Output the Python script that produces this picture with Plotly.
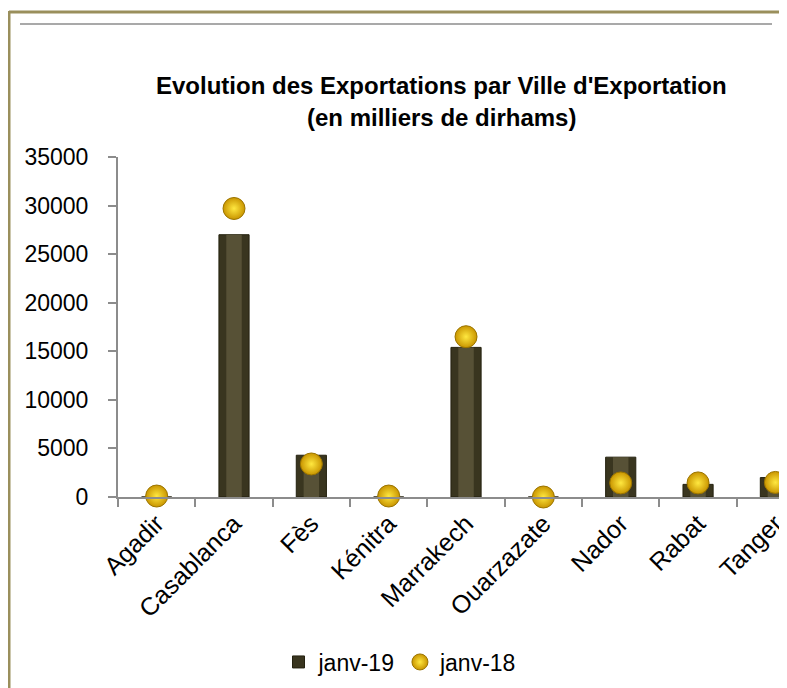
import plotly.graph_objects as go

villes = ["Agadir", "Casablanca", "Fès", "Kénitra", "Marrakech", "Ouarzazate", "Nador", "Rabat", "Tanger"]
janv19 = [0, 27000, 4300, 0, 15400, 0, 4100, 1300, 2000]
janv18 = [100, 29700, 3400, 100, 16500, 0, 1450, 1450, 1500]
yticks = [0, 5000, 10000, 15000, 20000, 25000, 30000, 35000]

OFF = 8  # page body margin
W, H = 787 - OFF, 688 - OFF
L, R_edge, T, B = 118 - OFF, 787 - OFF, 157 - OFF, 497 - OFF
pw, ph = R_edge - L, B - T

def px(x):
    return (x - OFF - L) / pw

def py(y):
    return (B - (y - OFF)) / ph

fig = go.Figure()
fig.add_trace(go.Bar(
    x=villes, y=janv19, name="janv-19", width=0.39,
    marker=dict(color="#39351f", line=dict(color="#24210f", width=1)),
))
fig.add_trace(go.Bar(
    x=villes, y=janv19, name="janv-19", width=0.2, showlegend=False, hoverinfo="skip",
    marker=dict(color="#575136", line=dict(width=0)),
))
fig.add_trace(go.Scatter(
    x=villes, y=janv18, name="janv-18", mode="markers", cliponaxis=False,
    marker=dict(size=22, color="#c99500", symbol="circle",
                gradient=dict(type="radial", color="#ffe840"),
                line=dict(color="#9a7400", width=1)),
))

font = "Liberation Sans, Arial, sans-serif"
fig.update_layout(
    width=W, height=H,
    margin=dict(l=L, r=W - R_edge, t=T, b=H - B, pad=0),
    paper_bgcolor="white", plot_bgcolor="white",
    font=dict(family=font, size=21, color="black"),
    showlegend=True, barmode="overlay",
    legend=dict(orientation="h", x=px(400), xanchor="center", y=py(662), yanchor="middle",
                font=dict(size=23), itemwidth=30, traceorder="normal"),
)
fig.update_xaxes(
    range=[-0.5, 8.15], tickangle=-45, showgrid=False, showline=True,
    linecolor="#8c8c8c", linewidth=2, ticks="outside", tickson="boundaries",
    ticklen=8, tickcolor="#8c8c8c", tickwidth=2, tickfont=dict(size=25),
)
fig.update_yaxes(
    range=[0, 35000], tickvals=yticks, ticktext=[str(v) for v in yticks],
    showgrid=False, showline=True, linecolor="#8c8c8c", linewidth=2,
    ticks="outside", ticklen=8, tickcolor="#8c8c8c", tickwidth=2,
    tickfont=dict(size=23), zeroline=False, ticklabelstandoff=15,
)

shapes = [
    dict(type="line", xref="paper", yref="paper", x0=px(9), x1=px(800), y0=py(12), y1=py(12),
         line=dict(color="#9a8f5c", width=3)),
    dict(type="line", xref="paper", yref="paper", x0=px(9), x1=px(9), y0=py(11), y1=py(700),
         line=dict(color="#9a8f5c", width=3)),
    dict(type="line", xref="paper", yref="paper", x0=px(20), x1=px(772), y0=py(24), y1=py(24),
         line=dict(color="#8c8c8c", width=1.5)),
]
fig.update_layout(shapes=shapes)

fig.add_annotation(text="<b>Evolution des Exportations par Ville d'Exportation</b>",
                   xref="paper", yref="paper", x=px(441), y=py(85), showarrow=False,
                   xanchor="center", yanchor="middle", font=dict(size=24, family=font))
fig.add_annotation(text="<b>(en milliers de dirhams)</b>",
                   xref="paper", yref="paper", x=px(441), y=py(117), showarrow=False,
                   xanchor="center", yanchor="middle", font=dict(size=24, family=font))

fig.write_html("out.html")
